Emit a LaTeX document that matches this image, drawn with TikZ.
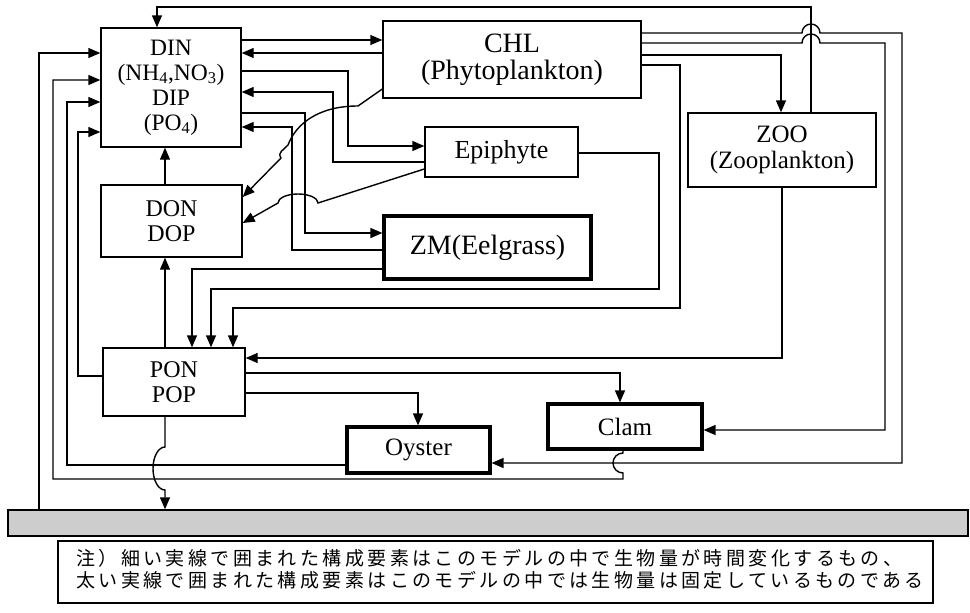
\documentclass[tikz,border=0pt]{standalone}
\usepackage{fontspec}
\setmainfont{Liberation Serif}
\newfontfamily\cjk[LetterSpace=18]{Noto Sans CJK JP}
\usetikzlibrary{arrows.meta}
\begin{document}
\begin{tikzpicture}[x=1pt,y=-1pt,
  box/.style={draw,line width=1.4pt,inner sep=0pt,align=center},
  thickbox/.style={draw,line width=3.2pt,inner sep=0pt,align=center},
  link/.style={line width=1.4pt,-{Triangle[length=12pt,width=10pt]}},
  jtext/.style={anchor=base west,inner sep=0pt,font=\cjk\fontsize{19}{21}\selectfont},
  ]
\useasboundingbox (0,0) rectangle (970,613);
% boxes
\node[box,minimum width=140pt,minimum height=119pt,font=\fontsize{23.5}{25}\selectfont] (din) at (171,87.5)
  {DIN\\(NH\textsubscript{4},NO\textsubscript{3})\\DIP\\(PO\textsubscript{4})};
\node[box,minimum width=141pt,minimum height=72pt,font=\fontsize{24}{25}\selectfont] (don) at (171.5,221) {DON\\DOP};
\node[box,minimum width=142pt,minimum height=68pt,font=\fontsize{24}{25}\selectfont] (pon) at (174,382) {PON\\POP};
\node[box,minimum width=258pt,minimum height=77pt,font=\fontsize{28}{27}\selectfont] (chl) at (512,59.5) {CHL\\(Phytoplankton)};
\node[box,minimum width=153pt,minimum height=50pt,font=\fontsize{26}{27}\selectfont] (epi) at (501.5,152) {Epiphyte};
\node[box,minimum width=188pt,minimum height=74pt,font=\fontsize{25}{26}\selectfont] (zoo) at (782,150) {ZOO\\(Zooplankton)};
\node[thickbox,minimum width=207pt,minimum height=63pt,font=\fontsize{28}{29}\selectfont] (zm) at (487.5,247.5) {ZM(Eelgrass)};
\node[thickbox,minimum width=154pt,minimum height=45pt,font=\fontsize{25}{27}\selectfont] (clam) at (625,426.5) {Clam};
\node[thickbox,minimum width=143pt,minimum height=46pt,font=\fontsize{25}{27}\selectfont] (oyster) at (418.5,450) {Oyster};
\node[draw,line width=1.4pt,fill={rgb,255:red,205;green,205;blue,205},minimum width=960pt,minimum height=26pt,inner sep=0pt] (band) at (488,523) {};
\node[draw,line width=1.4pt,minimum width=875pt,minimum height=62pt,inner sep=0pt] (note) at (495.5,572) {};
\node[jtext] (n1) at (76,565) {注）細い実線で囲まれた構成要素はこのモデルの中で生物量が時間変化するもの、};
\node[jtext] (n2) at (76,587) {太い実線で囲まれた構成要素はこのモデルの中では生物量は固定しているものである};
% connectors
\draw[link] (din.east |- 0,40) -- (chl.west |- 0,40);
\draw[link] (chl.west |- 0,53) -- (din.east |- 0,53);
\draw[link] (din.east |- 0,71) -- (348,71) -- (348,146) -- (epi.west |- 0,146);
\draw[link] (epi.west |- 0,162) -- (333,162) -- (333,92) -- (din.east |- 0,92);
\draw[link] (din.east |- 0,113) -- (305,113) -- (305,233) -- (zm.west |- 0,233);
\draw[link] (zm.west |- 0,250) -- (292,250) -- (292,127) -- (din.east |- 0,127);
\draw[link] (don.north -| 165,0) -- (din.south -| 165,0);
\draw[link] (pon.north -| 165,0) -- (don.south -| 165,0);
\draw[link] (zm.west |- 0,269) -- (192,269) -- (pon.north -| 192,0);
\draw[link] (epi.east |- 0,153) -- (659,153) -- (659,289) -- (211,289) -- (pon.north -| 211,0);
\draw[link] (chl.east |- 0,65) -- (680,65) -- (680,308) -- (233,308) -- (pon.north -| 233,0);
\draw[link] (chl.east |- 0,55) -- (781,55) -- (zoo.north -| 781,0);
\draw[link] (zoo.north -| 811,0) -- (811,7) -- (157,7) -- (din.north -| 157,0);
\draw[link] (chl.east |- 0,33) -- (802,33) arc[start angle=180,end angle=0,radius=9pt] -- (902,33) -- (902,463) -- (oyster.east |- 0,463);
\draw[link] (chl.east |- 0,43) -- (802,43) arc[start angle=180,end angle=0,radius=9pt] -- (885,43) -- (885,430) -- (clam.east |- 0,430);
\draw[link] (zoo.south -| 782,0) -- (782,358) -- (pon.east |- 0,358);
\draw[link] (pon.east |- 0,373) -- (620,373) -- (clam.north -| 620,0);
\draw[link] (pon.east |- 0,393) -- (418,393) -- (oyster.north -| 418,0);
\draw[link] (clam.south -| 623,0) -- (623,453) arc[start angle=90,end angle=270,radius=10pt] -- (623,479) -- (53,479) -- (53,80) -- (din.west |- 0,80);
\draw[link] (oyster.west |- 0,465) -- (67,465) -- (67,102) -- (din.west |- 0,102);
\draw[link] (pon.west |- 0,376) -- (78,376) -- (78,132) -- (din.west |- 0,132);
\draw[link] (band.north -| 39,0) -- (39,53) -- (din.west |- 0,53);
\draw[link] (pon.south -| 165,0) -- (165,447) arc[start angle=90,end angle=270,x radius=12pt,y radius=21.5pt] -- (band.north -| 165,0);
\draw[link] (chl.west |- 0,89) -- (358,106) .. controls (318,106) and (296,124) .. (288,145) .. controls (284,150) and (277,152) .. (281,158) -- (don.east |- 0,197);
\draw[link] (epi.west |- 0,169) -- (318,203) arc[start angle=0,end angle=180,x radius=20pt,y radius=9pt] -- (don.east |- 0,223);
\end{tikzpicture}
\end{document}
